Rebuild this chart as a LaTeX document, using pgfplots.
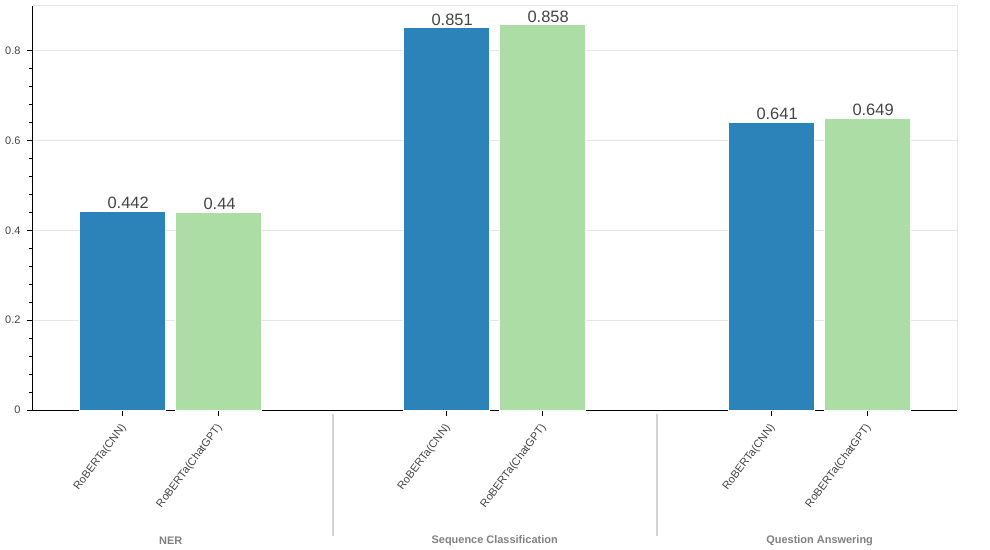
\documentclass[border=0pt]{standalone}
\usepackage{pgfplots}
\pgfplotsset{compat=1.18}
\usepackage{fontspec}
\setmainfont{Liberation Sans}
\definecolor{cblue}{HTML}{2B83BA}
\definecolor{cgreen}{HTML}{ABDDA4}
\definecolor{gridc}{HTML}{E5E5E5}
\definecolor{tickc}{HTML}{444444}
\definecolor{groupc}{HTML}{808080}
\definecolor{sepc}{HTML}{D3D3D3}
\begin{document}
\begin{tikzpicture}
\path[use as bounding box] (-33bp,-140bp) rectangle (957bp,410bp);
\begin{axis}[
  at={(0,0)}, anchor=south west,
  scale only axis,
  width=924.3bp, height=404.3bp,
  xmin=-0.434, xmax=9.194,
  ymin=0, ymax=0.9,
  axis x line=bottom, axis y line=left,
  axis line style={-, black, line width=1bp},
  tick align=outside,
  major tick length=6bp, minor tick length=4bp,
  tick style={black, line width=1bp},
  xtick={0.5,1.5,3.875,4.875,7.26,8.26},
  xticklabels={RoBERTa(CNN),RoBERTa(ChatGPT),RoBERTa(CNN),RoBERTa(ChatGPT),RoBERTa(CNN),RoBERTa(ChatGPT)},
  xticklabel style={yshift=-9bp, xshift=2bp, rotate=53, anchor=east, inner sep=1bp, font=\fontsize{11}{13}\selectfont, text=tickc},
  ytick={0,0.2,0.4,0.6,0.8},
  yticklabels={0,0.2,0.4,0.6,0.8},
  minor y tick num=4,
  yticklabel style={xshift=-3bp, font=\fontsize{11}{13}\selectfont, text=tickc},
  /pgf/number format/assume math mode=true,
  ymajorgrids, grid style={gridc, line width=1bp},
  clip=false,
  point meta=explicit symbolic,
  nodes near coords,
  nodes near coords style={anchor=south west, inner sep=0pt, xshift=-15.5bp, yshift=2bp,
    font=\fontsize{16.5}{18}\selectfont, text=tickc},
]
\draw[gridc, line width=1bp] (rel axis cs:0,1) -- (rel axis cs:1,1) -- (rel axis cs:1,0);
\addplot[ybar, bar shift=0pt, bar width=0.9, fill=cblue, draw=white, line width=0.8bp]
  coordinates {(0.5,0.442)[0.442] (3.875,0.851)[0.851] (7.26,0.641)[0.641]};
\addplot[ybar, bar shift=0pt, bar width=0.9, fill=cgreen, draw=white, line width=0.8bp]
  coordinates {(1.5,0.440)[0.44] (4.875,0.858)[0.858] (8.26,0.649)[0.649]};
\draw[sepc, line width=2bp] ([yshift=-4bp]axis cs:2.6875,0) -- ([yshift=-126bp]axis cs:2.6875,0);
\draw[sepc, line width=2bp] ([yshift=-4bp]axis cs:6.0675,0) -- ([yshift=-126bp]axis cs:6.0675,0);
\node[font=\bfseries\fontsize{11}{13}\selectfont, text=groupc] at ([yshift=-130.5bp]axis cs:1.0,0) {NER};
\node[font=\bfseries\fontsize{11}{13}\selectfont, text=groupc] at ([yshift=-130.5bp]axis cs:4.375,0) {Sequence Classification};
\node[font=\bfseries\fontsize{11}{13}\selectfont, text=groupc] at ([yshift=-130.5bp]axis cs:7.76,0) {Question Answering};
\end{axis}
\end{tikzpicture}
\end{document}
